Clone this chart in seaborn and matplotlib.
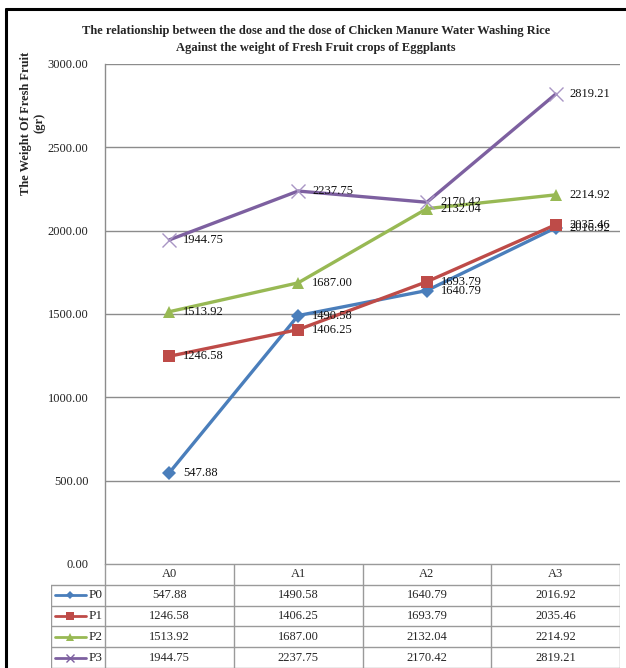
import matplotlib
matplotlib.use('Agg')
import matplotlib.pyplot as plt
import pandas as pd
import numpy as np
import seaborn as sns

# ---- data ----
doses = ['A0', 'A1', 'A2', 'A3']
series = ['P0', 'P1', 'P2', 'P3']
p0 = [547.88, 1490.58, 1640.79, 2016.92]
p1 = [1246.58, 1406.25, 1693.79, 2035.46]
p2 = [1513.92, 1687.00, 2132.04, 2214.92]
p3 = [1944.75, 2237.75, 2170.42, 2819.21]
y_ticks = [0, 500, 1000, 1500, 2000, 2500, 3000]

colors = {'P0': '#4A7EBB', 'P1': '#BE4B48', 'P2': '#98B954', 'P3': '#7D60A0'}
markers = {'P0': 'D', 'P1': 's', 'P2': '^', 'P3': 'x'}
msizes = {'P0': 7, 'P1': 8.5, 'P2': 8.5, 'P3': 9.5}

values = {'P0': p0, 'P1': p1, 'P2': p2, 'P3': p3}
df = pd.DataFrame(
    [(s, d, v) for s in series for d, v in zip(doses, values[s])],
    columns=['series', 'dose', 'weight']
)

sns.set_style('white')
plt.rcParams['font.family'] = ['Liberation Serif', 'DejaVu Serif']

W, H = 626, 668
fig = plt.figure(figsize=(W / 100, H / 100), dpi=100)

# main plot area in pixel coordinates
px_left, px_right, px_top, px_bottom = 105, 620, 64, 564
ax = fig.add_axes([px_left / W, (H - px_bottom) / H,
                   (px_right - px_left) / W, (px_bottom - px_top) / H])

for s in series:
    sub = df[df['series'] == s]
    sns.lineplot(data=sub, x='dose', y='weight', color=colors[s],
                 marker=markers[s], markersize=msizes[s],
                 markeredgecolor='#A995C4' if s == 'P3' else colors[s],
                 markeredgewidth=1.0 if s == 'P3' else 0,
                 linewidth=2.4, ax=ax, legend=False, sort=False)

for s in series:
    for i, v in enumerate(values[s]):
        ax.annotate(f'{v:.2f}', (i, v), xytext=(10, 0), textcoords='offset points',
                    va='center', ha='left', fontsize=9, color='#111111')

ax.set_xlim(-0.5, 3.5)
ax.set_ylim(0, 3000)
ax.set_yticks(y_ticks)
ax.set_yticklabels([f'{t:.2f}' for t in y_ticks], fontsize=9, color='#222222')
ax.tick_params(axis='y', length=0, pad=12)
ax.set_xticks([])
ax.set_xlabel('')
ax.set_ylabel('')
ax.grid(axis='y', color='#8C8C8C', linewidth=1.0)
ax.set_axisbelow(True)
for side in ['top', 'right', 'bottom']:
    ax.spines[side].set_visible(False)
ax.spines['left'].set_color('#8C8C8C')
ax.spines['left'].set_linewidth(1.0)

# ---- data table under the plot ----
leg_w = 54 / ((px_right - px_left) / 4)
tbl_left, tbl_top, row_h = 51, 564, 20.8
n_rows = len(series) + 1
tax = fig.add_axes([tbl_left / W, (H - tbl_top - n_rows * row_h) / H,
                    (px_right - tbl_left) / W, n_rows * row_h / H])
tax.set_xlim(-0.5 - leg_w, 3.5)
tax.set_ylim(n_rows, 0)
tax.axis('off')
gc = '#9A9A9A'
tax.plot([-0.5, 3.5], [0, 0], color=gc, lw=1)
for r in range(1, n_rows + 1):
    tax.plot([-0.5 - leg_w, 3.5], [r, r], color=gc, lw=1)
for xv in [-0.5, 0.5, 1.5, 2.5, 3.5]:
    tax.plot([xv, xv], [0, n_rows], color=gc, lw=1)
tax.plot([-0.5 - leg_w, -0.5 - leg_w], [1, n_rows], color=gc, lw=1)

for i, d in enumerate(doses):
    tax.text(i, 0.5, d, ha='center', va='center', fontsize=9)
for r, s in enumerate(series, start=1):
    x0, x1 = -0.5 - leg_w + 0.03, -0.5 - leg_w + 0.27
    tax.plot([x0, x1], [r + 0.5, r + 0.5], color=colors[s], lw=2)
    tax.plot([(x0 + x1) / 2], [r + 0.5], marker=markers[s], color=colors[s],
             markersize=msizes[s] * 0.65, markeredgewidth=1.0 if s == 'P3' else 0)
    tax.text(x1 + 0.02, r + 0.5, s, ha='left', va='center', fontsize=9.5)
    for i, v in enumerate(values[s]):
        tax.text(i, r + 0.5, f'{v:.2f}', ha='center', va='center', fontsize=9)

# ---- titles ----
fig.text(316 / W, 1 - 31 / H,
         'The relationship between the dose and the dose of Chicken Manure Water Washing Rice',
         ha='center', va='center', fontsize=9, fontweight='bold')
fig.text(316 / W, 1 - 48 / H,
         'Against the weight of Fresh Fruit crops of Eggplants',
         ha='center', va='center', fontsize=9, fontweight='bold')
fig.text(33 / W, 1 - 123 / H, 'The Weight Of Fresh Fruit\n(gr)', rotation=90,
         ha='center', va='center', fontsize=9, fontweight='bold', linespacing=1.2)

# outer frame (left and top edges visible)
fig.add_artist(plt.Line2D([6 / W, 6 / W], [0, 1 - 9 / H], transform=fig.transFigure,
                          color='black', lw=2.2))
fig.add_artist(plt.Line2D([6 / W, 1], [1 - 9 / H, 1 - 9 / H], transform=fig.transFigure,
                          color='black', lw=2.2))

fig.savefig('out.png', dpi=100)
